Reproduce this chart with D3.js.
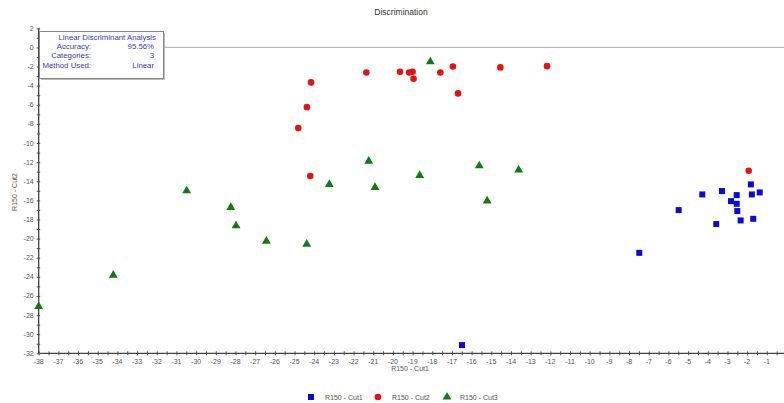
<!DOCTYPE html>
<html><head><meta charset="utf-8">
<script src="https://cdn.jsdelivr.net/npm/d3@7"></script>
<style>body{margin:0;background:#fff;}svg{display:block;font-family:Arial,"Liberation Sans",sans-serif;}</style>
</head><body>
<svg id="c" width="784" height="403"></svg>
<script>
const seriesNames = ["R150 - Cut1", "R150 - Cut2", "R150 - Cut3"];
const cut1X = [-1.81,-4.28,-3.28,-2.53,-1.76,-1.36,-2.82,-2.53,-2.5,-5.48,-3.57,-2.33,-1.69,-7.48,-16.49];
const cut1Y = [-14.33,-15.38,-15.03,-15.45,-15.38,-15.17,-16.08,-16.36,-17.12,-17.02,-18.48,-18.1,-17.93,-21.49,-31.14];
const cut2X = [-24.16,-24.37,-24.81,-21.35,-19.64,-19.17,-19.0,-18.95,-17.59,-16.95,-16.69,-14.54,-12.17,-24.2,-1.92];
const cut2Y = [-3.66,-6.25,-8.44,-2.62,-2.55,-2.62,-2.55,-3.28,-2.62,-1.99,-4.81,-2.09,-1.96,-13.46,-12.9];
const cut3X = [-18.1,-21.23,-15.61,-13.61,-18.64,-23.23,-20.91,-30.48,-28.24,-27.97,-26.43,-24.38,-34.21,-38.0,-15.21];
const cut3Y = [-1.5,-11.9,-12.38,-12.83,-13.39,-14.33,-14.64,-15.0,-16.74,-18.66,-20.26,-20.58,-23.82,-27.1,-16.05];
const xTicks = d3.range(-38, 0, 1);
const yTicks = d3.range(2, -33, -2);
const infoLabels = ["Accuracy:", "Categories:", "Method Used:"];
const infoValues = ["95.56%", "3", "Linear"];

const svg = d3.select("#c");
const x = d3.scaleLinear().domain([-38, 0]).range([38.7, 786.5]);
const y = d3.scaleLinear().domain([2, -32]).range([28.3, 353.3]);
const tickCol = "#555";

// title
svg.append("text").attr("x", 401).attr("y", 15).attr("text-anchor", "middle")
  .attr("font-size", 8.5).attr("fill", "#333").text("Discrimination");

// zero line
svg.append("line").attr("x1", x(-38)).attr("x2", 784).attr("y1", y(0)).attr("y2", y(0))
  .attr("stroke", "#b8b8b8").attr("stroke-width", 1.2);

// x axis
const xAxis = svg.append("g").attr("transform", `translate(0,${y(-32)})`);
xAxis.call(d3.axisBottom(x).tickValues(d3.range(-38, 0, 0.5)).tickSize(2).tickFormat(""));
xAxis.append("g").call(d3.axisTop(x).tickValues(d3.range(-38, 0, 0.5)).tickSize(2).tickFormat(""));
xAxis.selectAll("path").remove();
xAxis.selectAll("line").attr("stroke", tickCol);
xAxis.append("line").attr("x1", x(-38)).attr("x2", 784).attr("stroke", "#444").attr("stroke-width", 1.3);
xAxis.selectAll(".lbl").data(xTicks).join("text").attr("class", "lbl")
  .attr("x", d => x(d)).attr("y", 11).attr("text-anchor", "middle")
  .attr("font-size", 7).attr("fill", tickCol).text(d => d);
svg.append("text").attr("x", 410).attr("y", 371).attr("text-anchor", "middle")
  .attr("font-size", 7).attr("fill", tickCol).text(seriesNames[0]);

// y axis
const yAxis = svg.append("g").attr("transform", `translate(${x(-38)},0)`);
yAxis.call(d3.axisLeft(y).tickValues(d3.range(2, -32.5, -1)).tickSize(2).tickFormat(""));
yAxis.append("g").call(d3.axisRight(y).tickValues(d3.range(2, -32.5, -1)).tickSize(1.5).tickFormat(""));
yAxis.selectAll("path").remove();
yAxis.selectAll("line").attr("stroke", tickCol);
yAxis.append("line").attr("y1", y(2)).attr("y2", y(-32)).attr("stroke", "#444").attr("stroke-width", 1.3);
yAxis.selectAll(".lbl").data(yTicks).join("text").attr("class", "lbl")
  .attr("x", -5).attr("y", d => y(d) + 2.5).attr("text-anchor", "end")
  .attr("font-size", 7).attr("fill", tickCol).text(d => d);
svg.append("text").attr("transform", "translate(17,192) rotate(-90)").attr("text-anchor", "middle")
  .attr("font-size", 7).attr("fill", tickCol).text(seriesNames[1]);

// info box
const bx = 39.5, by = 31.5, bw = 124, bh = 47;
svg.append("rect").attr("x", bx + 1.5).attr("y", by + 1.5).attr("width", bw).attr("height", bh).attr("fill", "#bbb");
svg.append("rect").attr("x", bx).attr("y", by).attr("width", bw).attr("height", bh)
  .attr("fill", "#fff").attr("stroke", "#888").attr("stroke-width", 1);
const blue = "#3a3ac4";
svg.append("text").attr("x", 156).attr("y", 39.5).attr("text-anchor", "end")
  .attr("font-size", 7.8).attr("fill", blue).text("Linear Discriminant Analysis");
infoLabels.forEach((t, i) => {
  svg.append("text").attr("x", 91).attr("y", 49 + i * 9.3).attr("text-anchor", "end")
    .attr("font-size", 7.8).attr("fill", blue).text(t);
  svg.append("text").attr("x", 154).attr("y", 49 + i * 9.3).attr("text-anchor", "end")
    .attr("font-size", 7.8).attr("fill", blue).text(infoValues[i]);
});

// points
const c1 = cut1X.map((d, i) => [d, cut1Y[i]]);
const c2 = cut2X.map((d, i) => [d, cut2Y[i]]);
const c3 = cut3X.map((d, i) => [d, cut3Y[i]]);
const sq = d3.symbol().type(d3.symbolSquare).size(36);
const ci = d3.symbol().type(d3.symbolCircle).size(34);
const tr = d3.symbol().type(d3.symbolTriangle).size(34);
svg.append("g").selectAll("path").data(c1).join("path")
  .attr("d", sq).attr("transform", d => `translate(${x(d[0])},${y(d[1])})`).attr("fill", "#0a0ad8");
svg.append("g").selectAll("path").data(c2).join("path")
  .attr("d", ci).attr("transform", d => `translate(${x(d[0])},${y(d[1])})`).attr("fill", "#e81010");
svg.append("g").selectAll("path").data(c3).join("path")
  .attr("d", tr).attr("transform", d => `translate(${x(d[0])},${y(d[1])})`).attr("fill", "#127a12");

// legend
const lg = [
  {sym: sq, col: "#0a0ad8", sx: 311, tx: 325, name: seriesNames[0]},
  {sym: ci, col: "#e81010", sx: 378, tx: 392, name: seriesNames[1]},
  {sym: tr, col: "#127a12", sx: 447, tx: 460, name: seriesNames[2]}
];
lg.forEach(l => {
  svg.append("path").attr("d", l.sym).attr("transform", `translate(${l.sx},397)`).attr("fill", l.col);
  svg.append("text").attr("x", l.tx).attr("y", 399.5).attr("font-size", 7).attr("fill", tickCol).text(l.name);
});
</script>
</body></html>
